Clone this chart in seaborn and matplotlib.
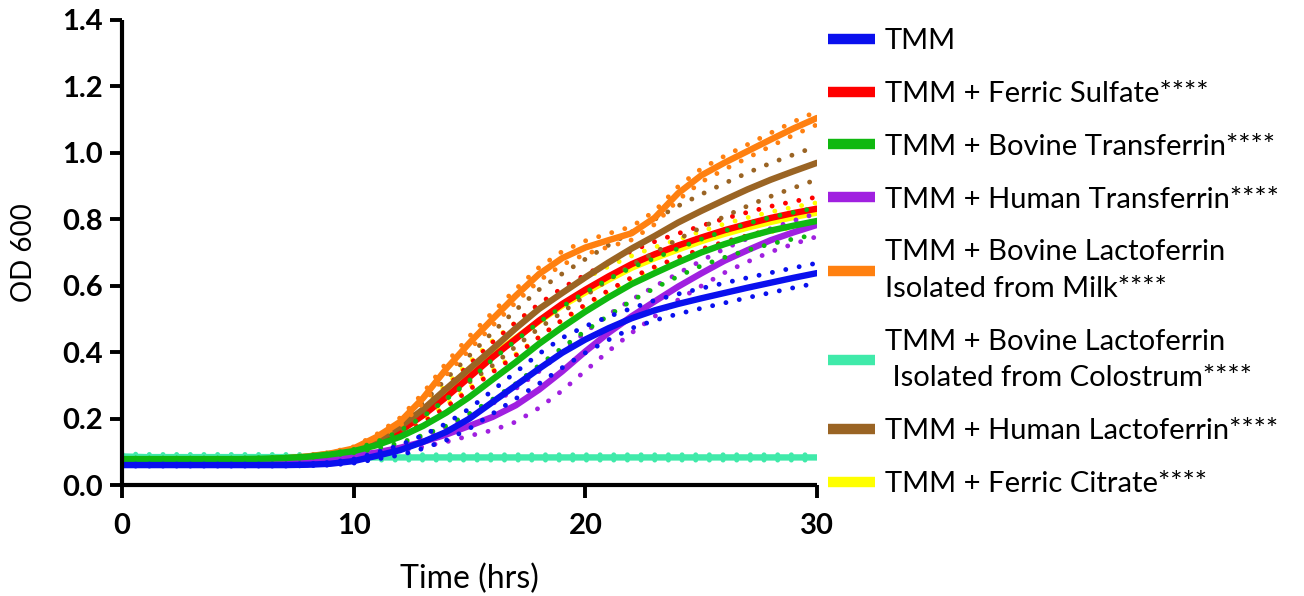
import numpy as np
import pandas as pd
import matplotlib
matplotlib.use('Agg')
from matplotlib import pyplot as plt
from matplotlib.lines import Line2D
import seaborn as sns

hours = [0, 1, 2, 3, 4, 5, 6, 7, 8, 9, 10, 11, 12, 13, 14, 15, 16, 17, 18, 19, 20,
         21, 22, 23, 24, 25, 26, 27, 28, 29, 30]

labels = ['TMM',
          'TMM + Ferric Sulfate****',
          'TMM + Bovine Transferrin****',
          'TMM + Human Transferrin****',
          'TMM + Bovine Lactoferrin\nIsolated from Milk****',
          'TMM + Bovine Lactoferrin\n Isolated from Colostrum****',
          'TMM + Human Lactoferrin****',
          'TMM + Ferric Citrate****']
colours = ['#0a10ee', '#ff0000', '#10b810', '#a020e0', '#ff8010', '#40eaaa', '#9a6424', '#ffff00']

# mean OD600 and SD, one value per hour
tmm = [0.060, 0.060, 0.060, 0.060, 0.060, 0.060, 0.060, 0.060, 0.061, 0.064, 0.072, 0.088, 0.105,
       0.130, 0.160, 0.200, 0.250, 0.300, 0.350, 0.398, 0.438, 0.472, 0.502, 0.526, 0.545, 0.562,
       0.578, 0.594, 0.609, 0.624, 0.638]
tmm_sd = [0.003, 0.003, 0.003, 0.003, 0.003, 0.003, 0.003, 0.003, 0.003, 0.004, 0.006, 0.010, 0.015,
          0.020, 0.025, 0.030, 0.035, 0.040, 0.045, 0.045, 0.040, 0.035, 0.030, 0.030, 0.030, 0.030,
          0.030, 0.030, 0.030, 0.030, 0.030]

ferric_sulfate = [0.075, 0.075, 0.075, 0.075, 0.075, 0.075, 0.075, 0.077, 0.083, 0.091, 0.102, 0.128,
                  0.162, 0.210, 0.265, 0.325, 0.385, 0.440, 0.495, 0.545, 0.588, 0.628, 0.665, 0.695,
                  0.721, 0.745, 0.767, 0.786, 0.804, 0.819, 0.832]
ferric_sulfate_sd = [0.003, 0.003, 0.003, 0.003, 0.003, 0.003, 0.003, 0.003, 0.003, 0.003, 0.005, 0.010,
                     0.015, 0.022, 0.030, 0.038, 0.045, 0.050, 0.050, 0.048, 0.045, 0.042, 0.040, 0.038,
                     0.036, 0.035, 0.035, 0.035, 0.035, 0.035, 0.035]

bovine_tf = [0.078, 0.078, 0.078, 0.078, 0.078, 0.078, 0.079, 0.081, 0.085, 0.092, 0.102, 0.120, 0.145,
             0.178, 0.218, 0.265, 0.318, 0.370, 0.425, 0.475, 0.522, 0.565, 0.605, 0.638, 0.670, 0.700,
             0.725, 0.747, 0.766, 0.781, 0.795]
bovine_tf_sd = [0.003, 0.003, 0.003, 0.003, 0.003, 0.003, 0.003, 0.003, 0.003, 0.003, 0.005, 0.010, 0.018,
                0.028, 0.040, 0.050, 0.060, 0.065, 0.065, 0.062, 0.058, 0.055, 0.050, 0.045, 0.042, 0.040,
                0.040, 0.040, 0.040, 0.040, 0.040]

human_tf = [0.070, 0.070, 0.070, 0.070, 0.070, 0.070, 0.071, 0.073, 0.076, 0.081, 0.088, 0.098, 0.112,
            0.130, 0.152, 0.178, 0.205, 0.240, 0.287, 0.342, 0.402, 0.458, 0.508, 0.553, 0.597, 0.637,
            0.675, 0.707, 0.737, 0.761, 0.783]
human_tf_sd = [0.003, 0.003, 0.003, 0.003, 0.003, 0.003, 0.003, 0.003, 0.003, 0.003, 0.004, 0.006, 0.010,
               0.015, 0.022, 0.030, 0.040, 0.050, 0.055, 0.058, 0.058, 0.055, 0.050, 0.045, 0.040, 0.038,
               0.036, 0.035, 0.035, 0.035, 0.035]

bovine_lf_milk = [0.076, 0.076, 0.076, 0.076, 0.076, 0.076, 0.077, 0.080, 0.086, 0.095, 0.110, 0.145,
                  0.190, 0.262, 0.350, 0.428, 0.500, 0.570, 0.635, 0.683, 0.715, 0.737, 0.758, 0.805,
                  0.878, 0.932, 0.970, 1.005, 1.040, 1.074, 1.105]
bovine_lf_milk_sd = [0.003, 0.003, 0.003, 0.003, 0.003, 0.003, 0.003, 0.003, 0.003, 0.003, 0.005, 0.008,
                     0.012, 0.015, 0.018, 0.020, 0.020, 0.020, 0.020, 0.020, 0.020, 0.020, 0.020, 0.020,
                     0.020, 0.020, 0.020, 0.020, 0.020, 0.020, 0.020]

bovine_lf_colostrum = [0.086, 0.084, 0.084, 0.084, 0.084, 0.084, 0.084, 0.084, 0.084, 0.083, 0.083, 0.083,
                       0.083, 0.083, 0.083, 0.083, 0.083, 0.083, 0.083, 0.083, 0.083, 0.083, 0.083, 0.083,
                       0.083, 0.083, 0.083, 0.083, 0.083, 0.083, 0.083]
bovine_lf_colostrum_sd = [0.008, 0.008, 0.008, 0.008, 0.008, 0.008, 0.008, 0.008, 0.008, 0.008, 0.008,
                          0.008, 0.008, 0.008, 0.008, 0.008, 0.008, 0.008, 0.008, 0.008, 0.008, 0.008,
                          0.008, 0.008, 0.008, 0.008, 0.008, 0.008, 0.008, 0.008, 0.008]

human_lf = [0.075, 0.075, 0.075, 0.075, 0.075, 0.075, 0.076, 0.079, 0.085, 0.094, 0.105, 0.135, 0.175,
            0.228, 0.290, 0.350, 0.410, 0.472, 0.530, 0.578, 0.625, 0.670, 0.712, 0.750, 0.790, 0.825,
            0.858, 0.890, 0.919, 0.945, 0.970]
human_lf_sd = [0.003, 0.003, 0.003, 0.003, 0.003, 0.003, 0.003, 0.003, 0.003, 0.003, 0.005, 0.010, 0.015,
               0.020, 0.030, 0.040, 0.050, 0.055, 0.058, 0.058, 0.055, 0.052, 0.050, 0.050, 0.050, 0.050,
               0.050, 0.050, 0.050, 0.050, 0.050]

ferric_citrate = [0.074, 0.074, 0.074, 0.074, 0.074, 0.074, 0.074, 0.076, 0.082, 0.090, 0.101, 0.128,
                  0.165, 0.215, 0.272, 0.332, 0.390, 0.442, 0.493, 0.540, 0.580, 0.618, 0.654, 0.683,
                  0.709, 0.734, 0.756, 0.775, 0.792, 0.807, 0.820]
ferric_citrate_sd = [0.003, 0.003, 0.003, 0.003, 0.003, 0.003, 0.003, 0.003, 0.003, 0.003, 0.005, 0.010,
                     0.015, 0.020, 0.030, 0.038, 0.045, 0.048, 0.048, 0.045, 0.042, 0.040, 0.036, 0.033,
                     0.030, 0.030, 0.030, 0.030, 0.030, 0.030, 0.030]

means = [tmm, ferric_sulfate, bovine_tf, human_tf, bovine_lf_milk, bovine_lf_colostrum, human_lf, ferric_citrate]
sds = [tmm_sd, ferric_sulfate_sd, bovine_tf_sd, human_tf_sd, bovine_lf_milk_sd, bovine_lf_colostrum_sd,
       human_lf_sd, ferric_citrate_sd]

rows = []
for name, m, s in zip(labels, means, sds):
    m = np.array(m)
    s = np.array(s)
    for stat, vals in (('mean', m), ('upper', m + s), ('lower', m - s)):
        for t, v in zip(hours, vals):
            rows.append((name, stat, t, v))
df = pd.DataFrame(rows, columns=['group', 'stat', 'time', 'od'])

sns.set_style('ticks')
plt.rcParams['font.family'] = ['Lato', 'DejaVu Sans']
plt.rcParams['text.color'] = 'black'
plt.rcParams['axes.labelcolor'] = 'black'
plt.rcParams['xtick.color'] = 'black'
plt.rcParams['ytick.color'] = 'black'
plt.rcParams['axes.edgecolor'] = 'black'

fig = plt.figure(figsize=(13.04, 5.96), dpi=100)
ax = fig.add_axes([122 / 1304, 1 - 485 / 596, (817 - 122) / 1304, (485 - 20) / 596])

# draw order roughly as in the original (cyan at the back, blue in front)
draw_order = [5, 7, 1, 6, 4, 3, 2, 0]
for i in draw_order:
    sub = df[df['group'] == labels[i]]
    for stat in ('upper', 'lower'):
        sns.lineplot(data=sub[sub['stat'] == stat], x='time', y='od', color=colours[i], lw=3.5,
                     linestyle=(0, (0.01, 2.8)), dash_capstyle='round', ax=ax, legend=False)
    sns.lineplot(data=sub[sub['stat'] == 'mean'], x='time', y='od', color=colours[i], lw=4.6,
                 solid_capstyle='round', ax=ax, legend=False)

ax.set_xlim(0, 30)
ax.set_ylim(0, 1.4)
ax.set_xticks([0, 10, 20, 30])
ax.set_yticks([0.0, 0.2, 0.4, 0.6, 0.8, 1.0, 1.2, 1.4])
ax.set_yticklabels(['0.0', '0.2', '0.4', '0.6', '0.8', '1.0', '1.2', '1.4'])
ax.set_xlabel('Time (hrs)', fontsize=23, labelpad=18)
ax.set_ylabel('OD 600', fontsize=20, labelpad=18)
ax.tick_params(axis='both', which='major', labelsize=21, length=9, width=2.8, direction='out')
ax.tick_params(axis='x', pad=11)
ax.tick_params(axis='y', pad=5)
for lab in ax.get_xticklabels() + ax.get_yticklabels():
    lab.set_fontweight('bold')
sns.despine(ax=ax)
for side in ('left', 'bottom'):
    ax.spines[side].set_linewidth(3)
    ax.spines[side].set_capstyle('butt')

handles = [Line2D([0], [0], color=c, lw=7.5, solid_capstyle='butt') for c in colours]
leg = fig.legend(handles, labels, loc='upper left', bbox_to_anchor=(828 / 1304, 1 - 28 / 596),
                 frameon=False, fontsize=21, handlelength=1.6, handletextpad=0.35, labelspacing=0.92,
                 borderpad=0, borderaxespad=0)
for txt in leg.get_texts():
    txt.set_linespacing(1.5)

fig.savefig('out.png', dpi=100)
